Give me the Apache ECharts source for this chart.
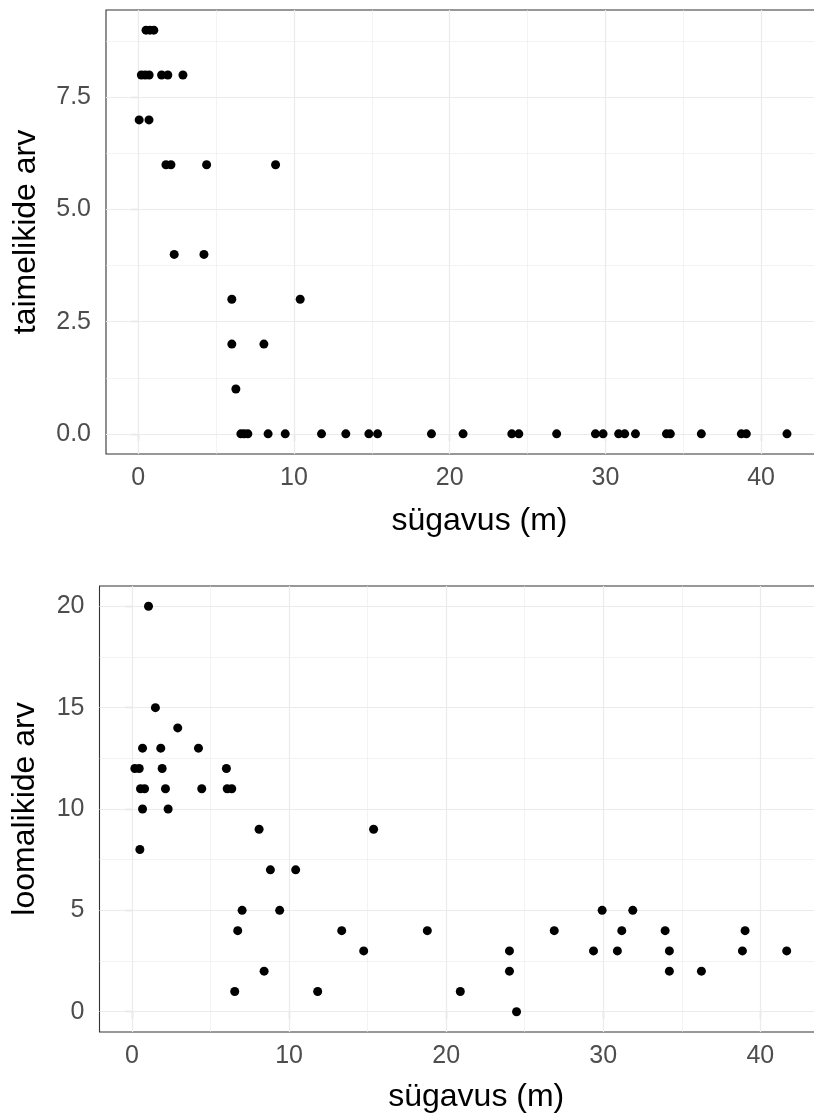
<!DOCTYPE html>
<html><head><meta charset="utf-8">
<script src="https://cdn.jsdelivr.net/npm/echarts@6/dist/echarts.min.js"></script>
<style>html,body{margin:0;padding:0;background:#fff}#c{width:814px;height:1119px}</style>
</head><body><div id="c"></div>
<script>
// Top panel: plant taxa vs depth
const depthPlants = [0.5,0.75,1.0, 0.2,0.45,0.7,1.5,1.9,2.87, 0.06,0.69, 1.78,2.1,4.39,8.82, 2.31,4.22, 6.01,10.4, 6.01,8.07, 6.27,
  6.59,6.8,7.04,8.34,9.44,11.77,13.33,14.81,15.37,18.83,20.86,23.99,24.44,26.87,29.36,29.85,30.85,31.24,31.93,33.92,34.17,36.16,38.73,39.05,41.66];
const plantCounts = [9,9,9, 8,8,8,8,8,8, 7,7, 6,6,6,6, 4,4, 3,3, 2,2, 1,
  0,0,0,0,0,0,0,0,0,0,0,0,0,0,0,0,0,0,0,0,0,0,0,0,0];
// Bottom panel: animal taxa vs depth
const depthAnimals = [1.05, 1.49, 2.91, 0.67,1.83,4.23, 0.18,0.46,1.92,6.01, 0.54,0.80,2.13,4.44,6.06,6.35, 0.67,2.30, 8.09,15.38, 0.50, 8.81,10.42,
  7.01,9.40,29.93,31.88, 6.73,13.35,18.80,26.88,31.18,33.94,39.03, 14.75,24.03,29.38,30.90,34.21,38.86,41.68, 8.41,24.03,34.21,36.25, 6.54,11.82,20.90, 24.48];
const animalCounts = [20, 15, 14, 13,13,13, 12,12,12,12, 11,11,11,11,11,11, 10,10, 9,9, 8, 7,7,
  5,5,5,5, 4,4,4,4,4,4,4, 3,3,3,3,3,3,3, 2,2,2,2, 1,1,1, 0];

const xTicks = [0,10,20,30,40];
const xMinor = [5,15,25,35,45];
const yTopTicks = [0,2.5,5,7.5];
const yTopMinor = [1.25,3.75,6.25,8.75];
const yBotTicks = [0,5,10,15,20];
const yBotMinor = [2.5,7.5,12.5,17.5];
const xTitle = 'sügavus (m)';
const yTopTitle = 'taimelikide arv';
const yBotTitle = 'loomalikide arv';

const FONT = '"Liberation Sans", Arial, sans-serif';
const TICK_FS = 25, TITLE_FS = 32;

function gridLines(idx, xs, ys, width) {
  return {type:'scatter', xAxisIndex:idx, yAxisIndex:idx, data:[], silent:true, z:1,
    markLine:{silent:true, symbol:['none','none'], label:{show:false}, animation:false,
      lineStyle:{color:'#EBEBEB', width:width, type:'solid'}, emphasis:{disabled:true},
      data: xs.map(v=>({xAxis:v})).concat(ys.map(v=>({yAxis:v})))}};
}
function xAxisDef(idx, gap) {
  return {gridIndex:idx, type:'value', min:-2.07, max:45.9,
    axisLine:{show:false},
    axisTick:{show:true, length:7, customValues:xTicks, lineStyle:{color:'#333333', width:1.1}},
    axisLabel:{customValues:xTicks, color:'#4D4D4D', fontSize:TICK_FS, fontFamily:FONT, margin:12},
    splitLine:{show:false},
    name:xTitle, nameLocation:'middle', nameGap:gap,
    nameTextStyle:{fontSize:TITLE_FS, color:'#000', fontFamily:FONT}};
}
function yAxisDef(idx, min, max, ticks, fmt, title, gap) {
  return {gridIndex:idx, type:'value', min:min, max:max,
    axisLine:{show:false},
    axisTick:{show:true, length:7, customValues:ticks, lineStyle:{color:'#333333', width:1.1}},
    axisLabel:{customValues:ticks, color:'#4D4D4D', fontSize:TICK_FS, fontFamily:FONT, margin:15, formatter:fmt},
    splitLine:{show:false},
    name:title, nameLocation:'middle', nameGap:gap, nameRotate:90,
    nameTextStyle:{fontSize:TITLE_FS, color:'#000', fontFamily:FONT}};
}

const chart = echarts.init(document.getElementById('c'), null, {renderer:'canvas'});
chart.setOption({
  animation:false,
  backgroundColor:'#fff',
  grid:[
    {left:106, top:10, right:-39, height:444, show:true, borderColor:'#333333', borderWidth:1.1, backgroundColor:'#fff', containLabel:false, outerBoundsMode:'none'},
    {left:99.5, top:586, right:-39, height:446, show:true, borderColor:'#333333', borderWidth:1.1, backgroundColor:'#fff', containLabel:false, outerBoundsMode:'none'}
  ],
  xAxis:[xAxisDef(0, 51), xAxisDef(1, 49)],
  yAxis:[
    yAxisDef(0, -0.45, 9.45, yTopTicks, v=>Number(v).toFixed(1), yTopTitle, 64),
    yAxisDef(1, -1, 21, yBotTicks, v=>String(Math.round(v)), yBotTitle, 58)
  ],
  series:[
    gridLines(0, xMinor, yTopMinor, 0.6),
    gridLines(0, xTicks, yTopTicks, 1.2),
    gridLines(1, xMinor, yBotMinor, 0.6),
    gridLines(1, xTicks, yBotTicks, 1.2),
    {type:'scatter', xAxisIndex:0, yAxisIndex:0, z:5, symbolSize:9, itemStyle:{color:'#000', opacity:1},
      data: depthPlants.map((d,i)=>[d, plantCounts[i]])},
    {type:'scatter', xAxisIndex:1, yAxisIndex:1, z:5, symbolSize:9, itemStyle:{color:'#000', opacity:1},
      data: depthAnimals.map((d,i)=>[d, animalCounts[i]])}
  ]
});
</script></body></html>
